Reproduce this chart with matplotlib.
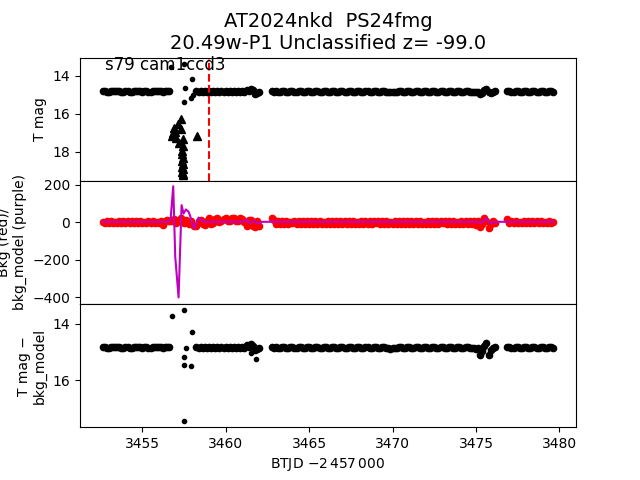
import matplotlib.pyplot as plt

# light curve times (BTJD - 2457000), four orbit segments
btjd = [3452.625, 3452.75, 3452.875, 3453.0, 3453.125, 3453.25, 3453.375, 3453.5, 3453.625, 3453.75, 3453.875,
        3454.0, 3454.125, 3454.25, 3454.375, 3454.5, 3454.625, 3454.75, 3454.875, 3455.0, 3455.125, 3455.25,
        3455.375, 3455.5, 3455.625, 3455.75, 3455.875, 3456.0, 3456.125, 3456.25, 3456.375, 3456.5, 3456.625,
        3458.25, 3458.375, 3458.5, 3458.625, 3458.75, 3458.875, 3459.0, 3459.125, 3459.25, 3459.375, 3459.5,
        3459.625, 3459.75, 3459.875, 3460.0, 3460.125, 3460.25, 3460.375, 3460.5, 3460.625, 3460.75, 3460.875,
        3461.0, 3461.125, 3461.25, 3461.375, 3461.5, 3461.625, 3461.75, 3461.875, 3462.0,
        3462.75, 3462.875,
        3463.0, 3463.125, 3463.25, 3463.375, 3463.5, 3463.625, 3463.75, 3463.875,
        3464.0, 3464.125, 3464.25, 3464.375, 3464.5, 3464.625, 3464.75, 3464.875,
        3465.0, 3465.125, 3465.25, 3465.375, 3465.5, 3465.625, 3465.75, 3465.875,
        3466.0, 3466.125, 3466.25, 3466.375, 3466.5, 3466.625, 3466.75, 3466.875,
        3467.0, 3467.125, 3467.25, 3467.375, 3467.5, 3467.625, 3467.75, 3467.875,
        3468.0, 3468.125, 3468.25, 3468.375, 3468.5, 3468.625, 3468.75, 3468.875,
        3469.0, 3469.125, 3469.25, 3469.375, 3469.5, 3469.625, 3469.75, 3469.875,
        3470.0, 3470.125, 3470.25, 3470.375, 3470.5, 3470.625, 3470.75, 3470.875,
        3471.0, 3471.125, 3471.25, 3471.375, 3471.5, 3471.625, 3471.75, 3471.875,
        3472.0, 3472.125, 3472.25, 3472.375, 3472.5, 3472.625, 3472.75, 3472.875,
        3473.0, 3473.125, 3473.25, 3473.375, 3473.5, 3473.625, 3473.75, 3473.875,
        3474.0, 3474.125, 3474.25, 3474.375, 3474.5, 3474.625, 3474.75, 3474.875,
        3475.0, 3475.125, 3475.25, 3475.375, 3475.5, 3475.625, 3475.75, 3475.875,
        3476.0, 3476.125,
        3476.875,
        3477.0, 3477.125, 3477.25, 3477.375, 3477.5, 3477.625, 3477.75, 3477.875,
        3478.0, 3478.125, 3478.25, 3478.375, 3478.5, 3478.625, 3478.75, 3478.875,
        3479.0, 3479.125, 3479.25, 3479.375, 3479.5, 3479.625]

tmag = [14.83, 14.83, 14.84, 14.84, 14.83, 14.83, 14.82, 14.83, 14.83, 14.84, 14.84,
        14.83, 14.83, 14.84, 14.84, 14.83, 14.82, 14.83, 14.83, 14.84, 14.83, 14.83,
        14.84, 14.84, 14.83, 14.83, 14.82, 14.83, 14.83, 14.84, 14.82, 14.80, 14.81,
        14.82, 14.84, 14.83, 14.84, 14.83, 14.85, 14.83, 14.84, 14.82, 14.84, 14.83,
        14.84, 14.83, 14.85, 14.83, 14.84, 14.82, 14.84, 14.83, 14.84, 14.83, 14.85,
        14.83, 14.84, 14.74, 14.80, 14.70, 14.76, 14.95, 14.91, 14.85,
        14.83, 14.84,
        14.83, 14.84, 14.84, 14.83, 14.83, 14.84, 14.84, 14.83,
        14.83, 14.84, 14.84, 14.83, 14.83, 14.84, 14.84, 14.83,
        14.83, 14.84, 14.84, 14.83, 14.83, 14.84, 14.84, 14.83,
        14.83, 14.84, 14.84, 14.83, 14.83, 14.84, 14.84, 14.83,
        14.83, 14.84, 14.84, 14.83, 14.83, 14.84, 14.84, 14.83,
        14.83, 14.84, 14.84, 14.83, 14.83, 14.84, 14.84, 14.83,
        14.83, 14.84, 14.84, 14.83, 14.83, 14.84, 14.85, 14.88,
        14.85, 14.84, 14.84, 14.83, 14.83, 14.84, 14.84, 14.83,
        14.83, 14.84, 14.84, 14.83, 14.83, 14.84, 14.84, 14.83,
        14.83, 14.84, 14.84, 14.83, 14.83, 14.84, 14.84, 14.83,
        14.83, 14.84, 14.84, 14.83, 14.83, 14.84, 14.84, 14.83,
        14.83, 14.84, 14.84, 14.83, 14.83, 14.84, 14.84, 14.85,
        14.88, 14.85, 14.96, 14.90, 14.76, 14.72, 14.88, 14.93,
        14.84, 14.83,
        14.83,
        14.83, 14.84, 14.84, 14.83, 14.83, 14.84, 14.84, 14.83,
        14.83, 14.84, 14.84, 14.83, 14.83, 14.84, 14.84, 14.83,
        14.83, 14.84, 14.84, 14.83, 14.83, 14.84]

bkg = [3, -5, 6, -4, 5, -6, 2, -5, 6, -3, 5,
       -6, 4, -5, 6, -3, 5, -4, 6, -5, 3, -6,
       5, -4, 6, -5, 3, -6, 5, -15, 8, 12, 5,
       -20, 5, 10, -12, -15, 8, 20, -8, -5, 15, 22,
       2, 5, 18, 20, 6, 8, 22, 22, 4, 6, 20,
       18, 2, -22, 10, 10, -20, -25, 5, -20,
       22, 12,
       -8, 6, -10, 5, -8, 8, -11, 3,
       -7, 8, -10, 6, -8, 7, -11, 4,
       -8, 8, -10, 5, -9, 7, -11, 3,
       -8, 8, -10, 6, -8, 7, -11, 4,
       -8, 8, -10, 5, -9, 7, -11, 3,
       -8, 8, -10, 6, -8, 7, -11, 4,
       -7, 8, -10, 5, -9, 7, -11, 3,
       -8, 8, -10, 6, -8, 7, -11, 4,
       -8, 8, -10, 5, -9, 7, -11, 3,
       -8, 8, -10, 6, -8, 7, -11, 4,
       -7, 8, -10, 5, -9, 7, -11, 3,
       -8, 8, -10, 6, -8, 7, -11, 4,
       -15, 5, -28, -10, 20, 8, -30, -12,
       5, -3,
       15,
       -5, 6, -4, 5, -6, 2, -5, 6,
       -3, 5, -5, 4, -6, 5, -4, 6,
       -5, 3, -6, 5, -4, 2]

tmag_sub = [14.84, 14.84, 14.85, 14.85, 14.84, 14.84, 14.83, 14.84, 14.84, 14.85, 14.85,
            14.84, 14.84, 14.85, 14.85, 14.84, 14.83, 14.84, 14.84, 14.85, 14.84, 14.84,
            14.85, 14.85, 14.84, 14.84, 14.83, 14.84, 14.84, 14.85, 14.83, 14.81, 14.82,
            14.83, 14.85, 14.84, 14.85, 14.84, 14.86, 14.84, 14.85, 14.83, 14.85, 14.84,
            14.85, 14.84, 14.86, 14.84, 14.85, 14.83, 14.85, 14.84, 14.85, 14.84, 14.86,
            14.84, 14.85, 14.76, 14.82, 14.73, 14.80, 14.93, 14.89, 14.86,
            14.84, 14.85,
            14.84, 14.85, 14.85, 14.84, 14.84, 14.85, 14.85, 14.84,
            14.84, 14.85, 14.85, 14.84, 14.84, 14.85, 14.85, 14.84,
            14.84, 14.85, 14.85, 14.84, 14.84, 14.85, 14.85, 14.84,
            14.84, 14.85, 14.85, 14.84, 14.84, 14.85, 14.85, 14.84,
            14.84, 14.85, 14.85, 14.84, 14.84, 14.85, 14.85, 14.84,
            14.84, 14.85, 14.85, 14.84, 14.84, 14.85, 14.85, 14.84,
            14.84, 14.85, 14.85, 14.84, 14.84, 14.85, 14.86, 14.89,
            14.86, 14.85, 14.85, 14.84, 14.84, 14.85, 14.85, 14.84,
            14.84, 14.85, 14.85, 14.84, 14.84, 14.85, 14.85, 14.84,
            14.84, 14.85, 14.85, 14.84, 14.84, 14.85, 14.85, 14.84,
            14.84, 14.85, 14.85, 14.84, 14.84, 14.85, 14.85, 14.84,
            14.84, 14.85, 14.85, 14.84, 14.84, 14.85, 14.85, 14.86,
            14.88, 14.85, 15.09, 14.95, 14.80, 14.68, 15.09, 14.94,
            14.85, 14.84,
            14.84,
            14.84, 14.85, 14.85, 14.84, 14.84, 14.85, 14.85, 14.84,
            14.84, 14.85, 14.85, 14.84, 14.84, 14.85, 14.85, 14.84,
            14.84, 14.85, 14.85, 14.84, 14.84, 14.85]

# isolated points around the outburst
top_out_t = [3456.72, 3457.48, 3457.96, 3457.48, 3457.55, 3457.93, 3458.05]
top_out_mag = [13.55, 13.38, 14.19, 15.38, 14.65, 15.16, 15.00]

# upper limits (triangles)
lim_t = [3457.32, 3457.12, 3456.92, 3456.82, 3456.78, 3457.02, 3457.32, 3457.42, 3457.18,
         3457.42, 3457.40, 3457.38, 3457.42, 3457.40, 3457.42, 3457.40, 3457.42, 3457.40,
         3457.42, 3457.42, 3456.98, 3458.28]
lim_mag = [16.30, 16.56, 16.74, 17.00, 17.17, 17.26, 16.83, 17.35, 17.53,
           17.70, 17.95, 18.14, 18.32, 18.50, 18.67, 18.82, 18.93, 19.05,
           19.15, 19.25, 16.95, 17.17]

gap_t = [3456.75, 3456.90, 3457.05, 3457.20, 3457.35, 3457.50, 3457.65, 3457.80, 3457.95, 3458.08]
gap_bkg = [5, 15, -5, 10, 20, -5, 12, -10, 8, -18]

sub_out_t = [3456.76, 3457.48, 3457.96, 3457.62, 3457.48, 3457.48, 3457.90, 3457.48, 3461.83, 3461.53]
sub_out_mag = [13.70, 13.50, 14.30, 14.87, 15.19, 15.46, 15.51, 17.45, 15.26, 15.04]

# background model
model_t = [3452.63, 3456.50, 3456.62, 3456.70, 3456.86, 3456.98, 3457.18, 3457.36, 3457.48,
           3457.62, 3457.78, 3457.88, 3457.99, 3458.13, 3458.26, 3458.38, 3458.53, 3458.73,
           3461.05, 3461.25, 3461.45, 3461.70, 3461.95, 3462.20, 3475.07, 3475.30, 3475.60,
           3475.85, 3476.30, 3479.64]
model = [2, 2, 8, 15, 192, -185, -402, 91, 46,
         68, 55, 32, -7, -34, 2, 25, 11, 2,
         2, 14, -5, 8, -8, 2, 2, -5, 20,
         -5, 2, 2]

fig, axes = plt.subplots(3, 1, sharex=True, figsize=(6.4, 4.8), dpi=100)
fig.subplots_adjust(hspace=0)
ax1, ax2, ax3 = axes

band_ms = 9

ax1.plot(btjd, tmag, 'k.', ms=band_ms)
ax1.plot(top_out_t, top_out_mag, 'k.')
ax1.plot(lim_t, lim_mag, 'k^')
ax1.axvline(3459.03, color='r', linestyle='--')
ax1.set_ylim(19.53, 13.05)
ax1.set_yticks([14, 16, 18])
ax1.set_ylabel('T mag')
ax1.text(0.05, 0.9, 's79 cam1ccd3', transform=ax1.transAxes, fontsize=12)
ax1.set_title('AT2024nkd  PS24fmg\n20.49w-P1 Unclassified z= -99.0', fontsize=14)

ax2.plot(btjd, bkg, 'r.', ms=band_ms)
ax2.plot(gap_t, gap_bkg, 'r.', ms=band_ms)
ax2.plot(model_t, model, 'm-')
ax2.set_ylim(-437, 221)
ax2.set_yticks([-400, -200, 0, 200])
ax2.set_ylabel('Bkg (red)/\nbkg_model (purple)')

ax3.plot(btjd, tmag_sub, 'k.', ms=band_ms)
ax3.plot(sub_out_t, sub_out_mag, 'k.')
ax3.set_ylim(17.68, 13.29)
ax3.set_yticks([14, 16])
ax3.set_ylabel('T mag \u2212\nbkg_model')
ax3.set_xlabel(r'BTJD $-2\,457\,000$')

plt.savefig('out.png', dpi=100)
